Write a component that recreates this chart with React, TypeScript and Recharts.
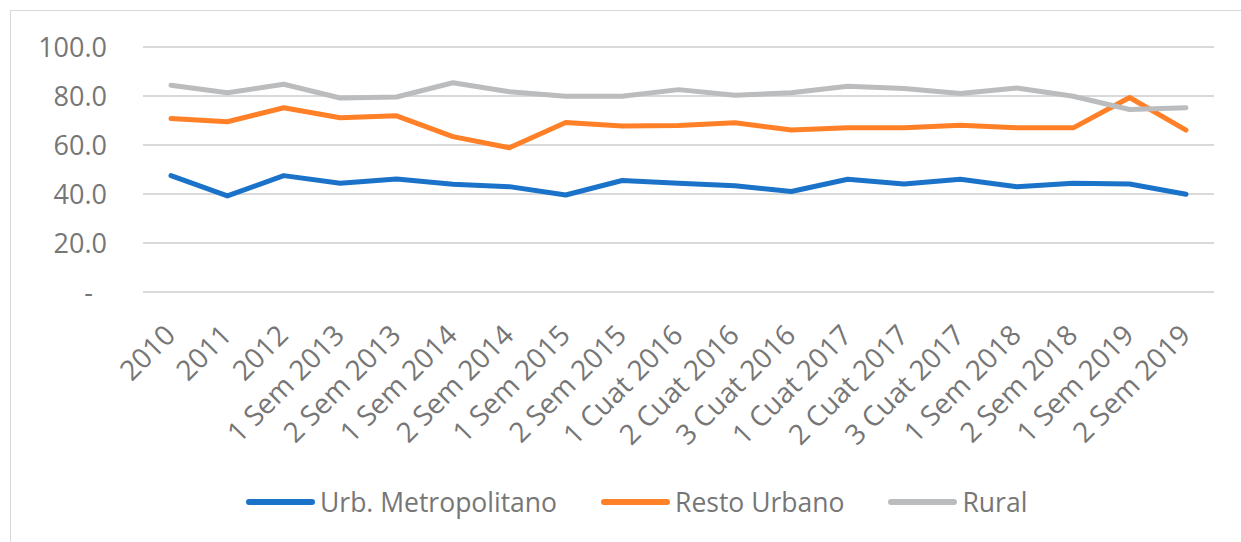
import React from 'react';
import { LineChart, Line, XAxis, YAxis, CartesianGrid, Legend } from 'recharts';

const categories = [
  '2010', '2011', '2012', '1 Sem 2013', '2 Sem 2013', '1 Sem 2014', '2 Sem 2014',
  '1 Sem 2015', '2 Sem 2015', '1 Cuat 2016', '2 Cuat 2016', '3 Cuat 2016',
  '1 Cuat 2017', '2 Cuat 2017', '3 Cuat 2017', '1 Sem 2018', '2 Sem 2018',
  '1 Sem 2019', '2 Sem 2019',
];
const urbMetropolitano = [47.5, 39.2, 47.5, 44.4, 46.1, 44.0, 43.0, 39.6, 45.5, 44.4, 43.4, 41.0, 46.0, 44.1, 46.0, 43.0, 44.4, 44.1, 39.9];
const restoUrbano = [70.8, 69.5, 75.2, 71.1, 71.9, 63.4, 58.9, 69.2, 67.8, 68.0, 69.1, 66.1, 67.0, 67.0, 68.1, 67.0, 67.0, 79.4, 66.1];
const rural = [84.4, 81.3, 84.8, 79.2, 79.6, 85.4, 81.7, 79.9, 79.9, 82.6, 80.3, 81.3, 84.0, 83.1, 81.0, 83.3, 79.9, 74.5, 75.2];
const yTicks = [0, 20, 40, 60, 80, 100];

const series = [
  { key: 'urb', name: 'Urb. Metropolitano', color: '#1A73C8' },
  { key: 'resto', name: 'Resto Urbano', color: '#FF8027' },
  { key: 'rural', name: 'Rural', color: '#BBBCBE' },
];

const data = categories.map((name, i) => ({
  name,
  urb: urbMetropolitano[i],
  resto: restoUrbano[i],
  rural: rural[i],
}));

const FONT = '"Open Sans", "Liberation Sans", sans-serif';
const TEXT = '#767676';

// rotated category labels, right end near the category point
const XTick = ({ x, y, payload }: any) => {
  const ax = x + 6;
  const ay = y + 45;
  return (
    <text
      x={ax}
      y={ay}
      transform={`rotate(-45 ${ax} ${ay})`}
      textAnchor="end"
      fill={TEXT}
      fontSize={28}
      fontFamily={FONT}
    >
      {payload.value}
    </text>
  );
};

const LegendContent = () => (
  <div style={{ display: 'flex', alignItems: 'center', fontFamily: FONT, fontSize: 26.5, color: TEXT }}>
    {series.map((s) => (
      <div key={s.key} style={{ display: 'flex', alignItems: 'center', marginRight: 44 }}>
        <div style={{ width: 69, height: 6, borderRadius: 3, background: s.color, marginRight: 5 }} />
        <span style={{ lineHeight: '30px' }}>{s.name}</span>
      </div>
    ))}
  </div>
);

export default function App() {
  return (
    <div style={{ position: 'absolute', left: 0, top: 0, width: 1241, height: 542, background: '#fff' }}>
      <div
        style={{
          position: 'absolute',
          left: 10,
          top: 10,
          width: 1300,
          height: 600,
          borderLeft: '1px solid #D9D9D9',
          borderTop: '1px solid #D9D9D9',
        }}
      />
      <LineChart
        width={1241}
        height={542}
        data={data}
        margin={{ top: 47, right: 27, bottom: 100, left: 0 }}
      >
        <CartesianGrid vertical={false} stroke="#D9D9D9" strokeWidth={2} />
        <XAxis
          dataKey="name"
          interval={0}
          height={150}
          axisLine={false}
          tickLine={false}
          tickSize={0}
          tickMargin={0}
          padding={{ left: 28, right: 28 }}
          tick={<XTick />}
        />
        <YAxis
          width={143}
          domain={[0, 100]}
          ticks={yTicks}
          axisLine={false}
          tickLine={false}
          tickSize={0}
          tickMargin={36}
          tick={{ fill: TEXT, fontSize: 27, fontFamily: FONT }}
          tickFormatter={(v: number) => (v === 0 ? '-\u00A0\u00A0' : v.toFixed(1))}
        />
        {series.map((s) => (
          <Line
            key={s.key}
            type="linear"
            dataKey={s.key}
            name={s.name}
            stroke={s.color}
            strokeWidth={5}
            strokeLinecap="round"
            strokeLinejoin="round"
            dot={false}
            activeDot={false}
            isAnimationActive={false}
          />
        ))}
        <Legend
          layout="horizontal"
          verticalAlign="middle"
          align="center"
          content={<LegendContent />}
          wrapperStyle={{ position: 'absolute', top: 487, left: 246, width: 'auto' }}
        />
      </LineChart>
    </div>
  );
}
